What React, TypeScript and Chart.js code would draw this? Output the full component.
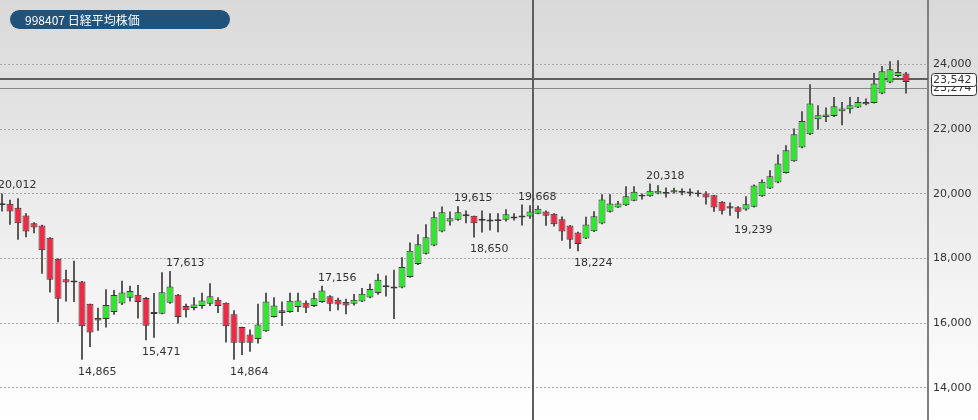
import { useEffect, useRef } from "react";
import { Chart, registerables } from "chart.js";
Chart.register(...registerables);

const title = "998407 日経平均株価";

const opens = [
  19650, 19690, 19567, 19330, 19093, 19021, 18640, 17990, 17360, 17300,
  17290, 16598, 16155, 16124, 16340, 16608, 16783, 16876, 16773, 16340,
  16292, 16629, 16875, 16527, 16466, 16527, 16600, 16721, 16629, 16271,
  15882, 15647, 15504, 15749, 16189, 16394, 16343, 16496, 16629, 16527,
  16650, 16834, 16721, 16650, 16600, 16670, 16794, 16928, 17130, 17134,
  17103, 17423, 17825, 18144, 18402, 18835, 19144, 19196, 19330, 19320,
  19205, 19180, 19180, 19196, 19275, 19268, 19299, 19381, 19454, 19381,
  19216, 19021, 18800, 18618, 18845, 19082, 19443, 19577, 19649, 19783,
  19940, 19928, 20010, 20052, 20041, 20060, 20072, 20041, 20010, 19959,
  19753, 19619, 19588, 19515, 19598, 19928, 20165, 20350, 20649, 21010,
  21433, 21845, 22309, 22381, 22412, 22557, 22619, 22670, 22773, 22814,
  23103, 23443, 23650, 23722,
];
const highs = [
  20012, 19815, 19866, 19402, 19124, 19041, 18660, 18000, 17650, 17930,
  17300, 16600, 16474, 17050, 17020, 17310, 17155, 17176, 16804, 16928,
  17577, 17613, 16900, 16600, 16803, 16936, 17233, 16803, 16640, 16394,
  15890, 15800, 16600, 16936, 16803, 16670, 16936, 16936, 16700, 16936,
  17156, 16860, 16783, 16750, 16900, 17082, 17216, 17526, 17474, 17649,
  18041, 18495, 18752, 19062, 19454, 19608, 19454, 19615, 19485, 19325,
  19485, 19402, 19402, 19526, 19402, 19668, 19650, 19640, 19485, 19402,
  19299, 19030, 18830, 19289, 19464, 19990, 19990, 19780, 20237, 20237,
  20010, 20318, 20268, 20196, 20186, 20165, 20165, 20113, 20082, 19965,
  19773, 19732, 19619, 19928, 20289, 20443, 20732, 21216, 21505, 22021,
  22557, 23392, 22742, 22670, 23000, 22845, 23000, 23000, 22948, 23742,
  23959, 24103, 24134, 23773,
];
const lows = [
  19455, 19041, 18578, 18660, 18784, 17526, 16950, 16022, 16670, 16650,
  14865, 15258, 15763, 15866, 16258, 16557, 16670, 16144, 15471, 15546,
  16271, 16600, 15985, 16169, 16394, 16445, 16527, 16312, 15401, 14864,
  15013, 15115, 15370, 15729, 16170, 15913, 16322, 16343, 16312, 16496,
  16629, 16363, 16394, 16271, 16547, 16650, 16770, 16876, 16825, 16123,
  17080, 17400, 17800, 18120, 18380, 18810, 19021, 19170, 19093, 18650,
  18804, 18866, 18814, 19144, 19175, 19021, 19227, 19371, 19010, 18990,
  18546, 18299, 18224, 18600, 18820, 19060, 19420, 19560, 19620, 19770,
  19825, 19910, 19990, 19887, 20010, 19959, 19928, 19907, 19670, 19443,
  19361, 19320, 19239, 19474, 19580, 19910, 20150, 20330, 20630, 20990,
  21410, 21820, 21990, 22227, 22381, 22124, 22485, 22660, 22742, 22794,
  23080, 23420, 23619, 23103,
];
const closes = [
  19712, 19454, 19093, 18836, 18960, 18258, 17340, 16755, 17258, 17270,
  15900, 15711, 16082, 16557, 16866, 16948, 16990, 16650, 15918, 16278,
  16957, 17131, 16189, 16394, 16578, 16700, 16834, 16527, 15903, 15391,
  15391, 15391, 15954, 16670, 16547, 16312, 16690, 16700, 16476, 16772,
  17008, 16600, 16578, 16547, 16721, 16907, 17051, 17340, 17150, 17072,
  17732, 18237, 18443, 18660, 19278, 19433, 19247, 19433, 19345, 19093,
  19190, 19165, 19195, 19371, 19260, 19330, 19454, 19536, 19320, 19062,
  18835, 18577, 18450, 19051, 19309, 19825, 19701, 19701, 19928, 20062,
  19950, 20093, 20093, 20010, 20113, 20070, 20010, 19990, 19887, 19577,
  19474, 19546, 19443, 19680, 20258, 20371, 20546, 20938, 21350, 21845,
  22258, 22794, 22433, 22454, 22711, 22639, 22742, 22845, 22845, 23412,
  23794, 23856, 23773, 23464,
];

const yTicks = [14000, 16000, 18000, 20000, 22000, 24000];
const labelIdx = [0, 10, 18, 21, 29, 40, 57, 59, 65, 72, 81, 92];
const labelKind = ["high", "low", "low", "high", "low", "high", "high", "low", "high", "low", "high", "low"];
const thinPriceLine = 23274;
const crossPriceLine = 23542;
const crossIndex = 66.34;

const UP = "#2ee82e";
const DOWN = "#ee2a44";
const EDGE = "#3a3a3a";
const FONT = '11px "DejaVu Sans"';
const fmt = (v: number) => v.toLocaleString("en-US");

export default function App() {
  const ref = useRef<HTMLCanvasElement>(null);

  useEffect(() => {
    document.body.style.margin = "0";
    const idx = opens.map((_, i) => i);
    const up = idx.map((i) => closes[i] >= opens[i]);
    const bodies = idx.map((i) => {
      let lo = Math.min(opens[i], closes[i]);
      let hi = Math.max(opens[i], closes[i]);
      if (hi - lo < 60) {
        const m = (hi + lo) / 2;
        lo = m - 30;
        hi = m + 30;
      }
      return { x: i, y: [lo, hi] };
    });
    const wicks = idx.map((i) => ({ x: i, y: [lows[i], highs[i]] }));

    const bgPlugin = {
      id: "bg",
      beforeDraw(chart: any) {
        const { ctx, width, height } = chart;
        const g = ctx.createLinearGradient(0, 0, 0, height);
        g.addColorStop(0, "#d9d9d9");
        g.addColorStop(1, "#ffffff");
        ctx.save();
        ctx.fillStyle = g;
        ctx.fillRect(0, 0, width, height);
        ctx.restore();
      },
    };

    const linesPlugin = {
      id: "lines",
      beforeDatasetsDraw(chart: any) {
        const { ctx, chartArea, scales } = chart;
        const x = scales.x;
        const y = scales.y;
        ctx.save();
        // thin price line
        ctx.strokeStyle = "#8a8a8a";
        ctx.lineWidth = 1;
        let py = Math.round(y.getPixelForValue(thinPriceLine)) + 0.5;
        ctx.beginPath();
        ctx.moveTo(chartArea.left, py);
        ctx.lineTo(chartArea.right, py);
        ctx.stroke();
        // crosshair
        ctx.strokeStyle = "#5e5e5e";
        ctx.lineWidth = 2;
        py = Math.round(y.getPixelForValue(crossPriceLine));
        ctx.beginPath();
        ctx.moveTo(chartArea.left, py);
        ctx.lineTo(chartArea.right, py);
        ctx.stroke();
        const px = Math.round(x.getPixelForValue(crossIndex));
        ctx.beginPath();
        ctx.moveTo(px, 0);
        ctx.lineTo(px, chart.height);
        ctx.stroke();
        ctx.restore();
      },
      afterDatasetsDraw(chart: any) {
        const { ctx, scales } = chart;
        const x = scales.x;
        const y = scales.y;
        ctx.save();
        ctx.font = FONT;
        ctx.fillStyle = "#333";
        ctx.textAlign = "left";
        ctx.textBaseline = "alphabetic";
        labelIdx.forEach((i, k) => {
          const isHigh = labelKind[k] === "high";
          const v = isHigh ? highs[i] : lows[i];
          const px = x.getPixelForValue(i) - 4;
          const py = y.getPixelForValue(v) + (isHigh ? -5 : 15);
          ctx.fillText(fmt(v), px, py);
        });
        ctx.restore();
      },
      afterDraw(chart: any) {
        const { ctx, scales } = chart;
        const y = scales.y;
        const box = (v: number) => {
          const cy = y.getPixelForValue(v);
          const bx = 931.5;
          const bw = 45;
          const bh = 13;
          const by = Math.round(cy - bh / 2) + 0.5;
          ctx.beginPath();
          ctx.roundRect(bx, by, bw, bh, 3);
          ctx.fillStyle = "#ffffff";
          ctx.fill();
          ctx.strokeStyle = "#333";
          ctx.lineWidth = 1;
          ctx.stroke();
          ctx.fillStyle = "#333";
          ctx.font = FONT;
          ctx.textAlign = "left";
          ctx.textBaseline = "middle";
          ctx.fillText(fmt(v), 933, cy + 0.5);
        };
        ctx.save();
        box(thinPriceLine);
        box(crossPriceLine);
        ctx.restore();
      },
    };

    const chart = new Chart(ref.current as HTMLCanvasElement, {
      type: "bar",
      data: {
        datasets: [
          {
            data: wicks as any,
            backgroundColor: "#5a5a5a",
            borderWidth: 0,
            barThickness: 2,
            grouped: false,
            inflateAmount: 0,
            order: 2,
          } as any,
          {
            data: bodies as any,
            backgroundColor: up.map((u) => (u ? UP : DOWN)),
            borderColor: EDGE,
            borderWidth: 1,
            borderSkipped: false,
            barThickness: 7,
            grouped: false,
            inflateAmount: 0,
            order: 1,
          } as any,
        ],
      },
      options: {
        animation: false,
        responsive: false,
        events: [],
        layout: { padding: 0 },
        plugins: { legend: { display: false }, tooltip: { enabled: false }, title: { display: false } },
        scales: {
          x: {
            type: "linear",
            min: -0.25,
            max: 115.75,
            offset: false,
            display: false,
          },
          y: {
            type: "linear",
            position: "right",
            min: 13000,
            max: 26000,
            afterBuildTicks: (s: any) => {
              s.ticks = yTicks.map((v) => ({ value: v }));
            },
            afterFit: (s: any) => {
              s.width = 50;
              s.paddingTop = 0;
              s.paddingBottom = 0;
            },
            grid: { color: "#a8a8a8", lineWidth: 1, drawTicks: false },
            border: { display: true, color: "#808080", width: 2, dash: [2, 2] },
            ticks: {
              padding: 5,
              color: "#333",
              font: { family: "DejaVu Sans", size: 11 },
              callback: (v: any) => fmt(Number(v)),
            },
          },
        },
      } as any,
      plugins: [bgPlugin, linesPlugin],
    });
    return () => chart.destroy();
  }, []);

  return (
    <div style={{ position: "relative", width: 978, height: 420 }}>
      <canvas ref={ref} width={978} height={420} style={{ display: "block" }} />
      <div
        style={{
          position: "absolute",
          left: 10,
          top: 10,
          width: 220,
          height: 19,
          borderRadius: 10,
          background: "#21527a",
          color: "#ffffff",
          fontFamily: '"Noto Sans CJK JP", sans-serif',
          fontSize: 12,
          lineHeight: "19px",
          paddingLeft: 15,
          boxSizing: "border-box",
          whiteSpace: "nowrap",
        }}
      >
        {title}
      </div>
    </div>
  );
}
